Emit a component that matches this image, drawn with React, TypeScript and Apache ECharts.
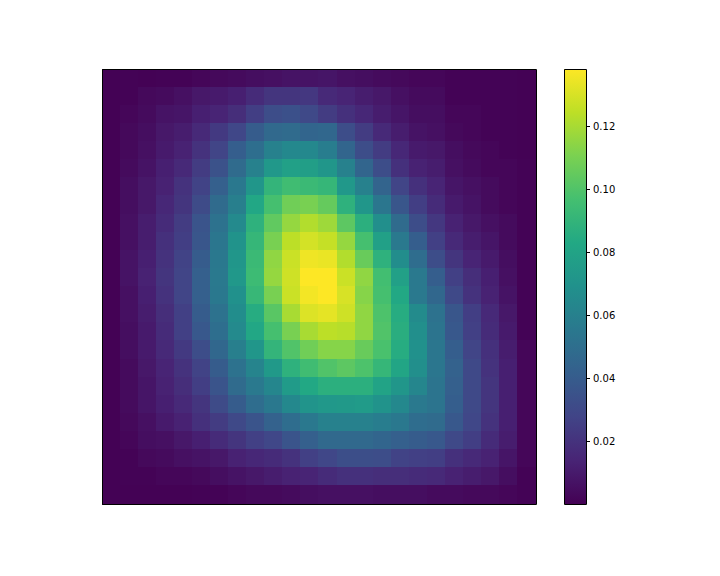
import React, { useEffect, useRef } from "react";
import * as echarts from "echarts";

const r00 = [.0005,.0008,.0005,.001,.001,.002,.003,.004,.005,.006,.007,.007,.008,.006,.005,.004,.003,.002,.002,.001,.001,.001,.001,.0005];
const r01 = [.0005,.001,.003,.004,.006,.009,.010,.012,.017,.021,.021,.022,.016,.014,.011,.009,.006,.004,.004,.001,.001,.001,.001,.0005];
const r02 = [.0005,.002,.004,.007,.008,.012,.014,.018,.025,.032,.034,.030,.024,.019,.015,.011,.008,.005,.005,.002,.002,.001,.001,.0005];
const r03 = [.0005,.003,.005,.009,.011,.016,.023,.029,.040,.047,.048,.045,.046,.032,.024,.016,.011,.007,.006,.003,.002,.001,.001,.0005];
const r04 = [.0005,.003,.006,.010,.013,.020,.028,.041,.050,.060,.064,.064,.058,.045,.032,.024,.015,.010,.009,.005,.003,.002,.001,.0005];
const r05 = [.0005,.004,.007,.012,.016,.024,.035,.048,.060,.073,.078,.077,.072,.060,.045,.032,.019,.013,.011,.006,.004,.002,.002,.001];
const r06 = [.0005,.005,.009,.013,.020,.027,.042,.055,.072,.090,.095,.093,.091,.073,.060,.044,.028,.019,.014,.008,.006,.004,.002,.001];
const r07 = [.0005,.005,.009,.015,.021,.031,.048,.059,.082,.097,.108,.110,.105,.088,.072,.054,.037,.025,.017,.010,.007,.004,.002,.001];
const r08 = [.0005,.006,.011,.017,.024,.036,.052,.065,.088,.104,.116,.122,.118,.103,.087,.068,.048,.032,.022,.013,.009,.006,.004,.001];
const r09 = [.0005,.006,.011,.019,.025,.037,.054,.070,.091,.110,.124,.129,.126,.116,.097,.078,.056,.041,.026,.016,.011,.008,.004,.001];
const r10 = [.0005,.007,.012,.020,.027,.040,.055,.072,.093,.115,.127,.135,.134,.122,.106,.088,.067,.049,.032,.021,.014,.010,.005,.001];
const r11 = [.0005,.007,.013,.021,.028,.042,.056,.073,.094,.116,.128,.138,.138,.127,.115,.096,.078,.056,.041,.026,.018,.012,.006,.001];
const r12 = [.0005,.006,.012,.020,.028,.042,.055,.069,.092,.110,.127,.136,.138,.130,.113,.097,.083,.056,.046,.030,.020,.013,.007,.001];
const r13 = [.0005,.006,.011,.018,.026,.040,.052,.067,.085,.102,.120,.131,.133,.128,.115,.099,.085,.066,.052,.037,.025,.016,.009,.001];
const r14 = [.0005,.005,.010,.017,.026,.038,.050,.065,.082,.097,.110,.120,.124,.123,.115,.100,.086,.068,.053,.038,.026,.017,.010,.001];
const r15 = [.0005,.005,.010,.016,.023,.032,.046,.059,.072,.090,.100,.108,.113,.113,.106,.098,.085,.069,.054,.041,.028,.019,.011,.002];
const r16 = [.0005,.004,.009,.014,.020,.027,.040,.052,.062,.074,.088,.095,.100,.103,.099,.091,.081,.068,.054,.043,.030,.020,.012,.002];
const r17 = [.0005,.004,.008,.013,.018,.025,.036,.048,.056,.063,.075,.083,.087,.087,.087,.080,.072,.063,.053,.042,.030,.021,.012,.002];
const r18 = [.0005,.004,.008,.012,.016,.021,.031,.040,.049,.055,.064,.071,.073,.074,.075,.070,.064,.056,.053,.041,.030,.021,.012,.002];
const r19 = [.0004,.003,.006,.010,.013,.019,.024,.030,.036,.043,.049,.055,.060,.060,.060,.058,.055,.049,.048,.038,.029,.020,.012,.002];
const r20 = [.0004,.002,.005,.006,.009,.012,.017,.021,.026,.029,.036,.042,.047,.047,.047,.045,.042,.040,.038,.030,.025,.017,.011,.002];
const r21 = [.0004,.001,.003,.004,.006,.007,.009,.013,.015,.017,.020,.026,.029,.033,.033,.032,.027,.026,.025,.019,.016,.013,.008,.002];
const r22 = [.0004,.0007,.001,.002,.002,.003,.005,.007,.009,.011,.013,.014,.017,.019,.019,.018,.018,.017,.016,.013,.011,.009,.005,.001];
const r23 = [.0003,.0005,.0003,.0005,.0005,.0007,.001,.002,.003,.003,.004,.005,.006,.006,.006,.005,.005,.005,.004,.004,.003,.003,.002,.001];
const rows = [r00,r01,r02,r03,r04,r05,r06,r07,r08,r09,r10,r11,r12,r13,r14,r15,r16,r17,r18,r19,r20,r21,r22,r23];

const tickValues = [0.02, 0.04, 0.06, 0.08, 0.10, 0.12];
const valueMin = 0.00003;
const valueMax = 0.1381;
const viridis = ["#440154","#482475","#414487","#355f8d","#2a788e","#21918c","#22a884","#44bf70","#7ad151","#bddf26","#fde725"];

export default function App() {
  const ref = useRef<HTMLDivElement>(null);
  useEffect(() => {
    document.body.style.margin = "0";
    const chart = echarts.init(ref.current!, null, { renderer: "svg" });
    const cats = rows.map((_, i) => String(i));
    const cells: number[][] = [];
    rows.forEach((row, y) => row.forEach((v, x) => cells.push([x, y, v])));
    chart.setOption({
      animation: false,
      backgroundColor: "#ffffff",
      textStyle: { fontFamily: "DejaVu Sans" },
      grid: [
        { left: 102, top: 69, width: 434, height: 435 },
        { left: 564, top: 69, width: 22, height: 435 },
      ],
      xAxis: [
        { type: "category", gridIndex: 0, data: cats, show: false },
        { type: "category", gridIndex: 1, data: ["bar"], show: false },
      ],
      yAxis: [
        { type: "category", gridIndex: 0, data: cats, inverse: true, show: false },
        {
          type: "value", gridIndex: 1, position: "right", min: valueMin, max: valueMax,
          axisLine: { show: false },
          splitLine: { show: false },
          axisTick: { show: true, length: 4, lineStyle: { color: "#000", width: 1 }, customValues: tickValues },
          axisLabel: {
            show: true, color: "#000", fontSize: 10, fontFamily: "DejaVu Sans", margin: 7,
            customValues: tickValues,
            formatter: (v: number) => v.toFixed(2),
          },
        },
      ],
      visualMap: {
        show: false, type: "continuous", seriesIndex: 0, dimension: 2,
        min: valueMin, max: valueMax, inRange: { color: viridis },
      },
      series: [
        {
          type: "custom", xAxisIndex: 0, yAxisIndex: 0, data: cells, silent: true,
          encode: { x: 0, y: 1 },
          renderItem: (_: any, api: any) => {
            const last = rows.length - 1;
            const cx = api.value(0);
            const cy = api.value(1);
            const c = api.coord([cx, cy]);
            const s = api.size([1, 1]);
            const x0 = Math.floor(c[0] - s[0] / 2);
            const y0 = Math.floor(c[1] - s[1] / 2);
            const x1 = cx < last ? Math.floor(api.coord([cx + 1, cy])[0] - s[0] / 2) : Math.floor(c[0] + s[0] / 2 + 1);
            const y1 = cy < last ? Math.floor(api.coord([cx, cy + 1])[1] - s[1] / 2) : Math.floor(c[1] + s[1] / 2 + 1);
            return {
              type: "rect",
              shape: { x: x0, y: y0, width: x1 - x0, height: y1 - y0 },
              style: { fill: api.visual("color") },
            };
          },
        },
        {
          type: "bar", xAxisIndex: 1, yAxisIndex: 1, data: [valueMax], barWidth: "100%", silent: true,
          itemStyle: {
            color: new echarts.graphic.LinearGradient(0, 1, 0, 0,
              viridis.map((c, i) => ({ offset: i / (viridis.length - 1), color: c }))),
          },
        },
      ],
      graphic: [
        { type: "rect", z: 100, shape: { x: 102.5, y: 69.5, width: 434, height: 435 }, style: { fill: "none", stroke: "#000", lineWidth: 1 } },
        { type: "rect", z: 100, shape: { x: 564.5, y: 69.5, width: 22, height: 435 }, style: { fill: "none", stroke: "#000", lineWidth: 1 } },
      ],
    });
    return () => chart.dispose();
  }, []);
  return <div ref={ref} style={{ width: 720, height: 576 }} />;
}
